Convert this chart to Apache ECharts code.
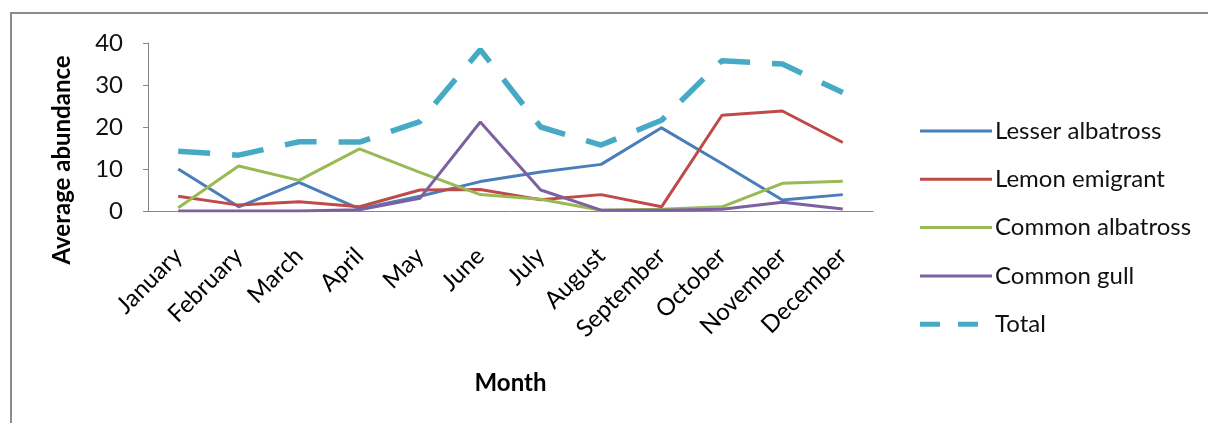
<!DOCTYPE html>
<html>
<head>
<meta charset="utf-8">
<script src="https://cdn.jsdelivr.net/npm/echarts@6/dist/echarts.min.js"></script>
<style>
  html, body { margin: 0; padding: 0; background: #ffffff; }
  #frame { position: absolute; left: 10px; top: 12px; width: 1198px; height: 411px;
           border-left: 2px solid #8c8c8c; border-top: 2px solid #8c8c8c; box-sizing: border-box; }
  #chart { position: absolute; left: 0; top: 0; width: 1208px; height: 423px; }
</style>
</head>
<body>
<div id="frame"></div>
<div id="chart"></div>
<script>
// Monthly average abundance per species
const months = ['January', 'February', 'March', 'April', 'May', 'June',
                'July', 'August', 'September', 'October', 'November', 'December'];
const lesserAlbatross = [10, 1, 6.8, 0.5, 3.5, 7, 9.3, 11.1, 19.8, 11.3, 2.6, 3.9];
const lemonEmigrant   = [3.5, 1.4, 2.2, 1, 5, 5.1, 2.7, 3.9, 1, 22.8, 23.8, 16.3];
const commonAlbatross = [0.8, 10.7, 7.3, 14.8, 9.2, 3.9, 2.8, 0.2, 0.4, 1, 6.6, 7.1];
const commonGull      = [0, 0, 0, 0.3, 3, 21.2, 5, 0.2, 0.2, 0.4, 2.1, 0.5];
const total           = [14.2, 13.3, 16.5, 16.4, 21.3, 38.4, 20, 15.7, 21.6, 35.8, 35, 28.2];
const yTicks = [0, 10, 20, 30, 40];

const font = 'Lato, "Open Sans", sans-serif';
const chart = echarts.init(document.getElementById('chart'), null, { renderer: 'canvas' });

// legend glyphs: a thin bar for solid series, two short bars for the dashed total
const solidIcon = 'path://M0,0h72v3h-72z';
const dashIcon = 'path://M0,0h20v5h-20z M38,0h20v5h-20z M71.95,2.5h0.05v0.01h-0.05z';

function solid(name, data, color) {
  return {
    name: name, type: 'line', data: data, symbol: 'none', smooth: false,
    lineStyle: { color: color, width: 3 }, itemStyle: { color: color },
    emphasis: { disabled: true }
  };
}

chart.setOption({
  animation: false,
  backgroundColor: 'transparent',
  textStyle: { fontFamily: font },
  grid: { left: 148, right: 335, top: 43, bottom: 212, containLabel: false },
  graphic: [{
    type: 'text',
    x: 62, y: 160,
    rotation: Math.PI / 2,
    style: {
      text: 'Average abundance',
      font: 'bold 24px ' + font,
      fill: '#000000',
      align: 'center',
      verticalAlign: 'middle'
    }
  }],
  legend: {
    orient: 'vertical',
    left: 915, top: 114,
    itemWidth: 72, itemHeight: 5, itemGap: 24.3,
    symbolKeepAspect: true,
    textStyle: { fontFamily: font, fontSize: 24, color: '#111111', padding: [0, 0, 0, -2] },
    data: [
      { name: 'Lesser albatross', icon: solidIcon },
      { name: 'Lemon emigrant', icon: solidIcon },
      { name: 'Common albatross', icon: solidIcon },
      { name: 'Common gull', icon: solidIcon },
      { name: 'Total', icon: dashIcon }
    ]
  },
  xAxis: {
    type: 'category',
    data: months,
    boundaryGap: true,
    name: 'Month',
    nameLocation: 'middle',
    nameGap: 160,
    nameTextStyle: { fontFamily: font, fontSize: 24, fontWeight: 'bold', color: '#000000' },
    axisLine: { lineStyle: { color: '#868686', width: 1 } },
    axisTick: { show: false },
    axisLabel: { rotate: 45, interval: 0, margin: 41, fontFamily: font, fontSize: 24, color: '#000000' }
  },
  yAxis: {
    type: 'value',
    min: yTicks[0], max: yTicks[yTicks.length - 1], interval: 10,
    axisLine: { show: true, lineStyle: { color: '#868686', width: 1 } },
    axisTick: { show: true, length: 5, lineStyle: { color: '#868686' } },
    splitLine: { show: false },
    axisLabel: { margin: 25, fontFamily: font, fontSize: 24, color: '#111111' }
  },
  series: [
    solid('Lesser albatross', lesserAlbatross, '#4a7ebb'),
    solid('Lemon emigrant', lemonEmigrant, '#be4b48'),
    solid('Common albatross', commonAlbatross, '#98b954'),
    solid('Common gull', commonGull, '#7d60a0'),
    {
      name: 'Total', type: 'line', data: total, symbol: 'none',
      lineStyle: { color: '#46aac5', width: 5.5, type: [32, 22] },
      itemStyle: { color: '#46aac5' },
      emphasis: { disabled: true }
    }
  ]
});
</script>
</body>
</html>
